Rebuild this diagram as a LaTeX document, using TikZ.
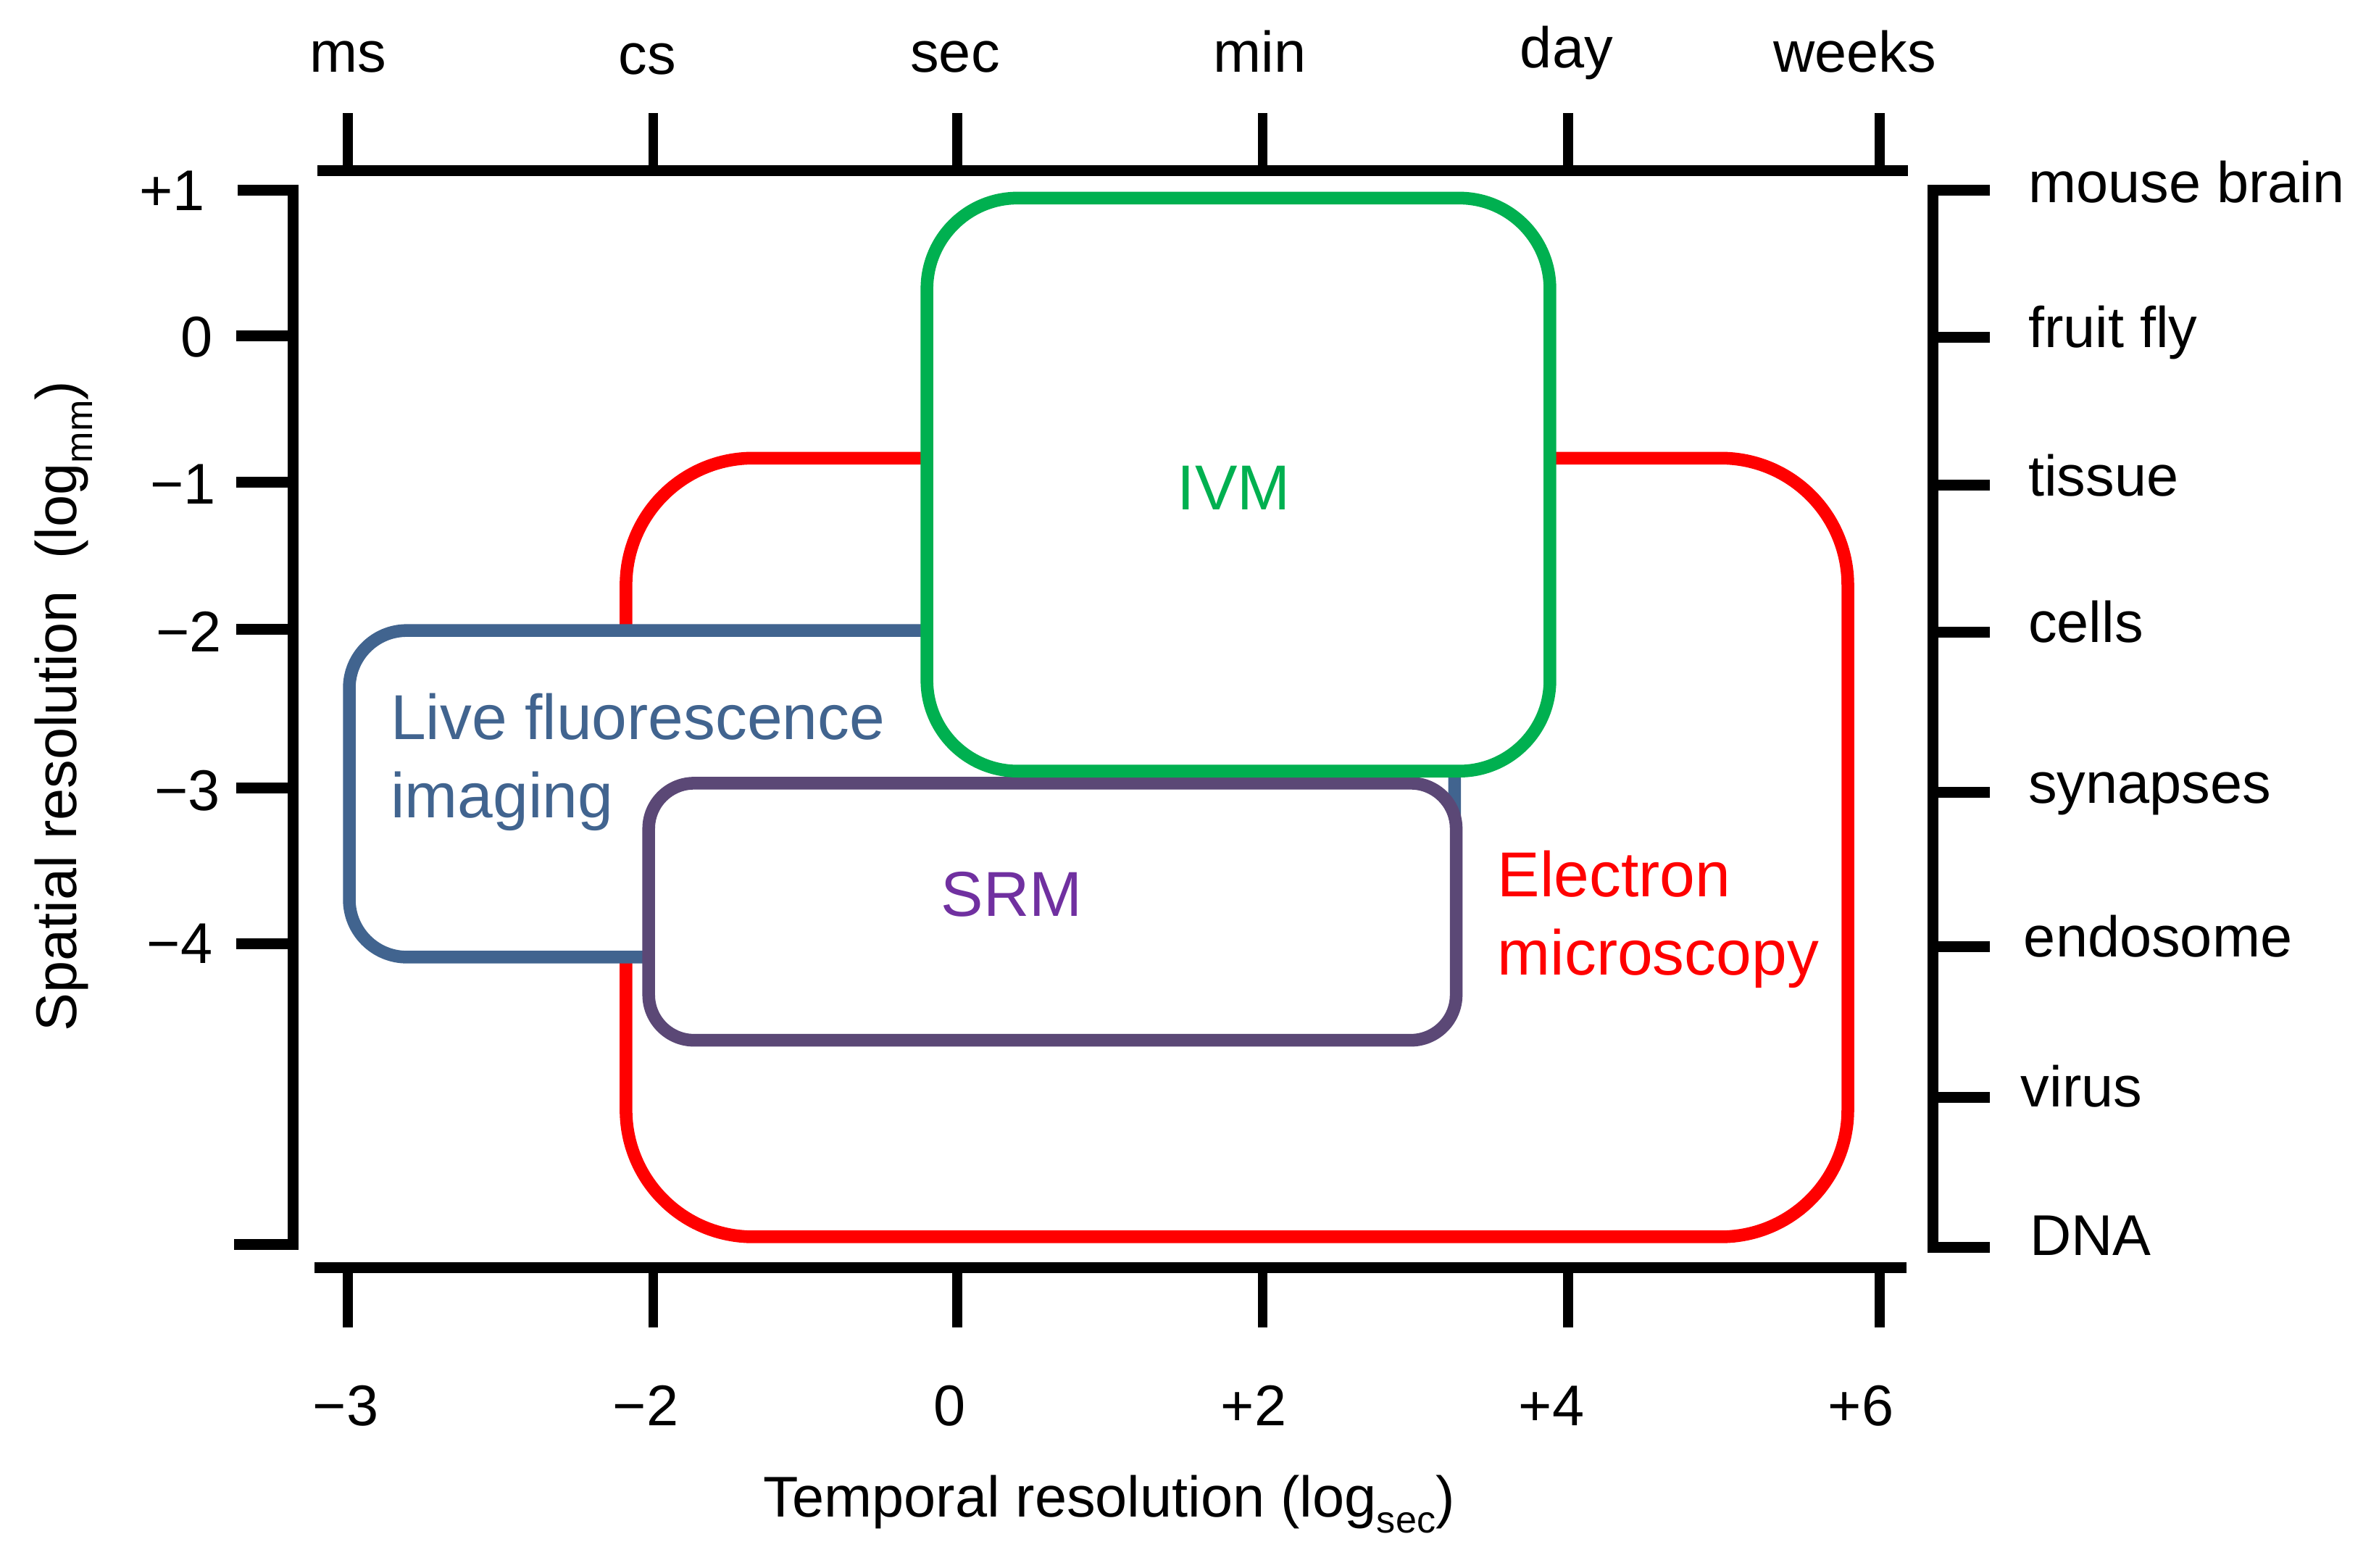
\documentclass[tikz,border=0pt]{standalone}
\usepackage{fontspec}
\setmainfont{Liberation Sans}
\definecolor{emred}{HTML}{FF0000}
\definecolor{ivmgreen}{HTML}{00B050}
\definecolor{lfiblue}{HTML}{41648F}
\definecolor{srmline}{HTML}{5B4876}
\definecolor{srmtext}{HTML}{7030A0}
\newcommand{\lowsub}[1]{\raisebox{-0.28em}{\fontsize{12.5pt}{12.5pt}\selectfont #1}}
\begin{document}
\begin{tikzpicture}[x=0.5pt,y=-0.5pt,
  axisline/.style={line width=3.6pt,black,line cap=butt,line join=miter},
  tickline/.style={line width=3.2pt,black,line cap=butt},
  lbl/.style={inner sep=0pt,font=\fontsize{19pt}{22pt}\selectfont},
  big/.style={inner sep=0pt,font=\fontsize{21pt}{26pt}\selectfont},
  region/.style={line width=4.2pt}]
\useasboundingbox (0,0) rectangle (1568,1037);

% --- top axis ---
\draw[axisline] (210,113) -- (1262,113);
\foreach \x in {230,432,633,835,1037,1243}{
  \draw[tickline] (\x,113) -- (\x,75);
}
\node[lbl,anchor=base] (tms)  at (230,47.5) {ms};
\node[lbl,anchor=base] (tcs)  at (428,49) {cs};
\node[lbl,anchor=base] (tsec) at (631.6,47.5) {sec};
\node[lbl,anchor=base] (tmin) at (833,47.5) {min};
\node[lbl,anchor=base] (tday) at (1036,45) {day};
\node[lbl,anchor=base] (twk)  at (1226.5,47.5) {weeks};

% --- bottom axis ---
\draw[axisline] (208,838.4) -- (1261,838.4);
\foreach \x in {230,432,633,835,1037,1243}{
  \draw[tickline] (\x,838.4) -- (\x,878);
}
\node[lbl,anchor=base] (bm3) at (228.6,943) {−3};
\node[lbl,anchor=base] (bm2) at (427,943) {−2};
\node[lbl,anchor=base] (b0)  at (628,943) {0};
\node[lbl,anchor=base] (bp2) at (829,943) {+2};
\node[lbl,anchor=base] (bp4) at (1026,943) {+4};
\node[lbl,anchor=base] (bp6) at (1230.6,943) {+6};
\node[lbl,anchor=base] (xtitle) at (733.5,1003) {Temporal resolution (log\lowsub{sec})};

% --- left axis ---
\draw[axisline] (157,126) -- (194,126) -- (194,823) -- (155,823);
\foreach \y in {222,319,416,521,624}{
  \draw[axisline] (156,\y) -- (194,\y);
}
\node[lbl,anchor=base east] (lp1) at (136,139) {+1};
\node[lbl,anchor=base east] (l0)  at (141,236) {0};
\node[lbl,anchor=base east] (lm1) at (143,333.5) {−1};
\node[lbl,anchor=base east] (lm2) at (147,431) {−2};
\node[lbl,anchor=base east] (lm3) at (146,536) {−3};
\node[lbl,anchor=base east] (lm4) at (141,637) {−4};
\node[lbl,anchor=base,rotate=90] (ytitle) at (50.5,467) {Spatial resolution\hspace{0.55em}(log\lowsub{mm})};

% --- right axis ---
\draw[axisline] (1316,126) -- (1278.5,126) -- (1278.5,825) -- (1316,825);
\foreach \y in {223,321,418,524,626,726}{
  \draw[axisline] (1278.5,\y) -- (1316,\y);
}
\node[lbl,anchor=base west] (rmb)  at (1341,134) {mouse brain};
\node[lbl,anchor=base west] (rff)  at (1341,230) {fruit fly};
\node[lbl,anchor=base west] (rts)  at (1341,328) {tissue};
\node[lbl,anchor=base west] (rcl)  at (1341,425) {cells};
\node[lbl,anchor=base west] (rsy)  at (1341,531) {synapses};
\node[lbl,anchor=base west] (ren)  at (1338,633) {endosome};
\node[lbl,anchor=base west] (rvi)  at (1336,732) {virus};
\node[lbl,anchor=base west] (rdna) at (1342,830) {DNA};

% --- regions ---
\draw[region,emred,rounded corners=42pt] (414,303) rectangle (1222,818);
\draw[region,lfiblue,fill=white,rounded corners=19pt] (231,417) rectangle (962,633);
\draw[region,srmline,fill=white,rounded corners=15pt] (429,518) rectangle (963,688);
\draw[region,ivmgreen,fill=white,rounded corners=30pt] (613,131) rectangle (1025,510);

% --- region labels ---
\node[big,anchor=base,text=ivmgreen] (ivm) at (816,337) {IVM};
\node[big,anchor=base,text=srmtext] (srm) at (669,606) {SRM};
\node[big,anchor=base west,text=lfiblue] (lfia) at (258,489) {Live fluorescence};
\node[big,anchor=base west,text=lfiblue] (lfib) at (258,541) {imaging};
\node[big,anchor=base west,text=emred] (ema) at (990,593) {Electron};
\node[big,anchor=base west,text=emred] (emb) at (990,645) {microscopy};
\end{tikzpicture}
\end{document}
